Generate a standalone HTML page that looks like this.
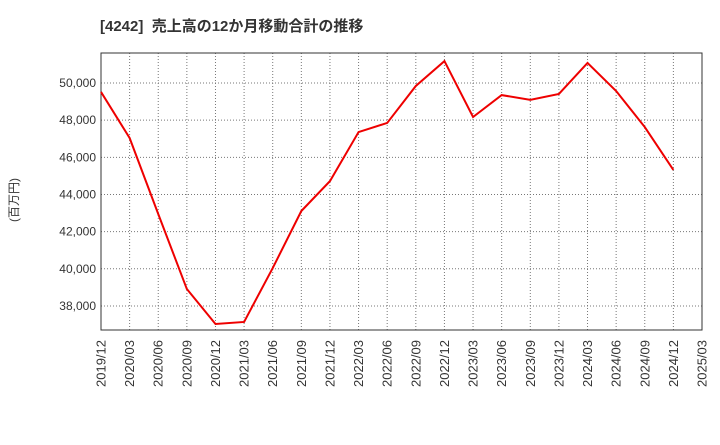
<!DOCTYPE html>
<html><head><meta charset="utf-8"><style>
body{margin:0;background:#fff;}
svg text{font-family:"Liberation Sans","Noto Sans CJK JP",sans-serif;}
</style></head><body>
<svg width="720" height="440" xmlns="http://www.w3.org/2000/svg">
<text x="100" y="31" font-size="15" font-weight="bold" fill="#333" xml:space="preserve">[4242]  売上高の12か月移動合計の推移</text>
<text transform="translate(18,200) rotate(-90)" font-size="12" fill="#333" text-anchor="middle">(百万円)</text>
<g id="grid"></g>
<rect x="101" y="53" width="601" height="277" fill="none" stroke="#333"/>
<g id="labels"></g>
<polyline id="line" fill="none" stroke="#e00" stroke-width="2"/>
</svg>
<script>
const categories=["2019/12","2020/03","2020/06","2020/09","2020/12","2021/03","2021/06","2021/09","2021/12","2022/03","2022/06","2022/09","2022/12","2023/03","2023/06","2023/09","2023/12","2024/03","2024/06","2024/09","2024/12","2025/03"];
const values=[49520,47040,42950,38910,37030,37140,40040,43110,44720,47360,47850,49840,51180,48170,49350,49090,49410,51080,49570,47630,45320];
const yTicks=[38000,40000,42000,44000,46000,48000,50000];
const X0=101,X1=702,Y0=53,Y1=330,VMIN=36706,VMAX=51615;
const xs=i=>X0+i*(X1-X0)/(categories.length-1);
const ys=v=>Y1-(v-VMIN)/(VMAX-VMIN)*(Y1-Y0);
const NS="http://www.w3.org/2000/svg";
const grid=document.getElementById('grid'),lab=document.getElementById('labels');
categories.forEach((c,i)=>{
 const x=xs(i);
 if(i>0&&i<categories.length-1){const l=document.createElementNS(NS,'line');
 l.setAttribute('x1',x);l.setAttribute('x2',x);l.setAttribute('y1',Y0);l.setAttribute('y2',Y1);
 l.setAttribute('stroke','#777');l.setAttribute('stroke-dasharray','1,2');
 
 grid.appendChild(l);}
 const t=document.createElementNS(NS,'text');
 t.setAttribute('transform',`translate(${x+4.5},${Y1+10}) rotate(-90)`);
 t.setAttribute('text-anchor','end');t.setAttribute('font-size','13');t.setAttribute('fill','#333');
 t.textContent=c;
 
 lab.appendChild(t);
});
yTicks.forEach(v=>{
 const y=ys(v);
 const l=document.createElementNS(NS,'line');
 l.setAttribute('x1',X0);l.setAttribute('x2',X1);l.setAttribute('y1',y);l.setAttribute('y2',y);
 l.setAttribute('stroke','#777');l.setAttribute('stroke-dasharray','1,2');
 
 grid.appendChild(l);
 const t=document.createElementNS(NS,'text');
 t.setAttribute('x',X0-5);t.setAttribute('y',y+4);t.setAttribute('text-anchor','end');
 t.setAttribute('font-size','12');t.setAttribute('fill','#333');
 t.textContent=v.toLocaleString('en-US');
 
 lab.appendChild(t);
});
document.getElementById('line').setAttribute('points',values.map((v,i)=>xs(i)+','+ys(v)).join(' '));
</script>
</body></html>
